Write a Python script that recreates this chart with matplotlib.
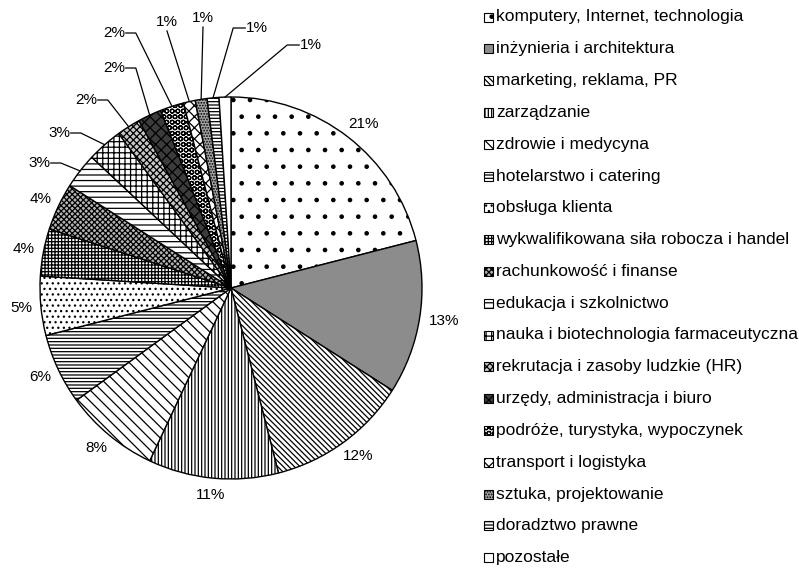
import numpy as np
import matplotlib.pyplot as plt
from matplotlib.patches import Rectangle

plt.rcParams['font.family'] = ['Liberation Sans', 'DejaVu Sans']
plt.rcParams['hatch.linewidth'] = 0.9

# job offer categories and their share (%)
categories = [
    "komputery, Internet, technologia",
    "inżynieria i architektura",
    "marketing, reklama, PR",
    "zarządzanie",
    "zdrowie i medycyna",
    "hotelarstwo i catering",
    "obsługa klienta",
    "wykwalifikowana siła robocza i handel",
    "rachunkowość i finanse",
    "edukacja i szkolnictwo",
    "nauka i biotechnologia farmaceutyczna",
    "rekrutacja i zasoby ludzkie (HR)",
    "urzędy, administracja i biuro",
    "podróże, turystyka, wypoczynek",
    "transport i logistyka",
    "sztuka, projektowanie",
    "doradztwo prawne",
    "pozostałe",
]
shares = [21, 13, 12, 11, 8, 6, 5, 4, 4, 3, 3, 2, 2, 2, 1, 1, 1, 1]

# black & white fill patterns (Excel style)
faces = ['white', '#8c8c8c', 'white', 'white', 'white', 'white', 'white', 'white',
         '#b4b4b4', 'white', 'white', '#c8c8c8', '#3c3c3c', 'white', 'white',
         '#a8a8a8', 'white', 'white']
hatches = ['.', None, '\\' * 6, '|' * 5, '\\' * 3, '-' * 5, '...', '+' * 5,
           'x' * 6, '---', '+++', 'x' * 5, 'xxx', 'OOO', 'xxx', '.' * 6,
           '-' * 5, None]

# small slices: label moved out with a leader line (pixel spot from top-left)
label_spots = [None] * 9 + [(39, 163), (59, 133), (86, 100), (114, 68), (114, 33),
                            (167, 22), (203, 18), (257, 28), (311, 45)]
leader_side = [None] * 9 + ['r', 'r', 'r', 'r', 'r', 'b', 'b', 'l', 'l']

W, H = 799, 568
cx, cy, R = 231, 288, 191

fig = plt.figure(figsize=(W / 100, H / 100), dpi=100)
ax = fig.add_axes([0, 0, 1, 1])

wedges, _ = ax.pie(shares, startangle=90, counterclock=False, center=(cx, H - cy),
                   radius=R, colors=faces,
                   wedgeprops=dict(edgecolor='black', linewidth=1))
for w, h in zip(wedges, hatches):
    if h:
        w.set_hatch(h)

ax.set_xlim(0, W)
ax.set_ylim(0, H)
ax.axis('off')

# percentage labels
for i, w in enumerate(wedges):
    txt = f"{shares[i]}%"
    hw, hh = 4.9 * len(txt), 7
    ang = np.deg2rad((w.theta1 + w.theta2) / 2)
    ux, uy = np.cos(ang), np.sin(ang)
    ex, ey = cx + R * ux, (H - cy) + R * uy
    if label_spots[i] is None:
        tx = cx + (R + 10) * ux + hw * ux
        ty = (H - cy) + (R + 10) * uy + hh * uy
    else:
        tx, ty = label_spots[i][0], H - label_spots[i][1]
        side = leader_side[i]
        if side == 'r':
            xs = [tx + hw + 2, tx + hw + 12, ex]
            ys = [ty, ty, ey]
        elif side == 'l':
            xs = [tx - hw - 2, tx - hw - 14, ex]
            ys = [ty, ty, ey]
        else:
            xs = [tx, ex]
            ys = [ty - 9, ey]
        ax.plot(xs, ys, color='black', lw=0.9)
    ax.text(tx, ty, txt, fontsize=11, ha='center', va='center')

# legend
for i, (w, name) in enumerate(zip(wedges, categories)):
    py = 17 + i * 31.8
    box = Rectangle((484, H - py - 4.5), 9, 9, facecolor=w.get_facecolor(),
                    edgecolor='black', hatch=w.get_hatch(), lw=0.8)
    ax.add_patch(box)
    ax.text(496, H - py, name, fontsize=12.5, ha='left', va='center')

fig.savefig('out.png', dpi=100)
